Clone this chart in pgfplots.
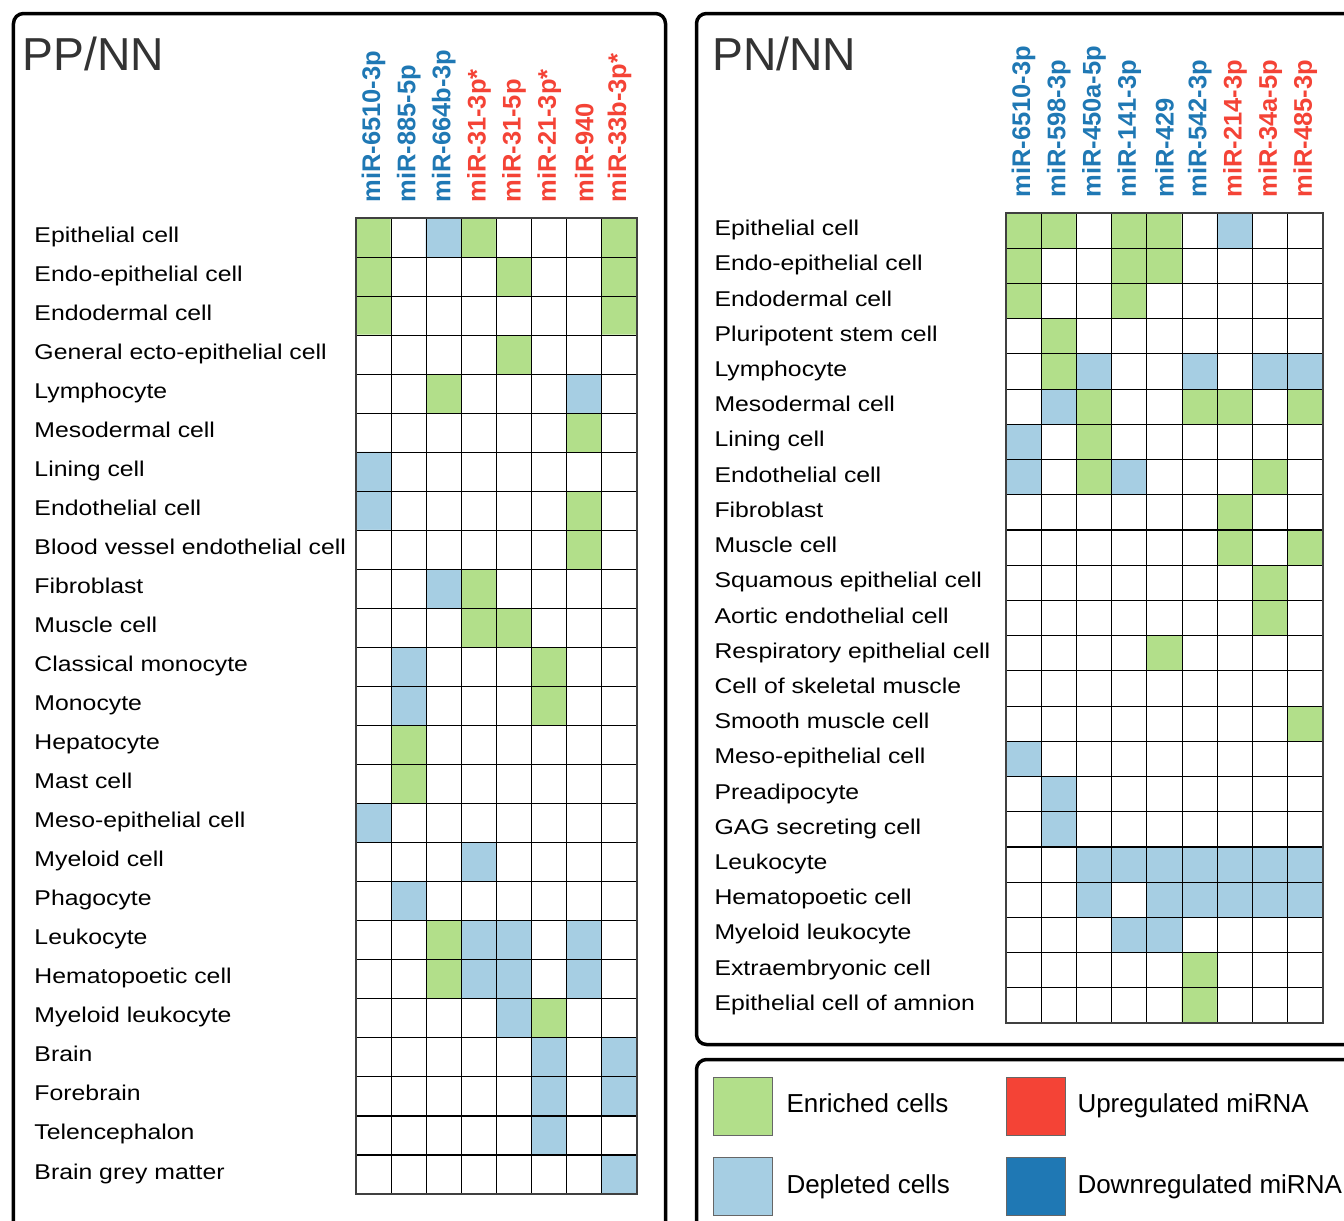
\documentclass[border=0pt]{standalone}
\usepackage{fontspec}
\setmainfont{Liberation Sans}
\newfontfamily\rowfont{Liberation Sans}[FakeStretch=1.16]
\usepackage{pgfplots}
\pgfplotsset{compat=1.18}
\definecolor{cgreen}{RGB}{178,223,138}
\definecolor{cblue}{RGB}{166,206,227}
\definecolor{lblue}{RGB}{31,120,180}
\definecolor{lred}{RGB}{244,67,54}
\definecolor{ttl}{RGB}{51,51,51}
\newcommand{\B}[1]{\textcolor{lblue}{\bfseries #1}}
\newcommand{\R}[1]{\textcolor{lred}{\bfseries #1}}
\pgfplotsset{
  cellgrid/.style={
    scale only axis,
    y dir=reverse,
    enlargelimits=false,
    colormap={cells}{rgb255(0)=(255,255,255) rgb255(1)=(178,223,138) rgb255(2)=(166,206,227)},
    point meta min=0, point meta max=2,
    axis on top,
    major tick length=0pt, minor tick length=0pt,
    xminorgrids=true, yminorgrids=true,
    minor grid style={black, line width=0.45pt},
    axis line style={black!75, line width=0.6pt},
    xticklabel pos=upper,
    xticklabel style={rotate=90, anchor=west, inner xsep=0pt, font=\fontsize{10.2pt}{12pt}\selectfont},
    yticklabel style={anchor=base west, inner xsep=0pt, inner ysep=0pt, font=\rowfont\fontsize{8.55pt}{10pt}\selectfont},
  }
}
\begin{document}
\begin{tikzpicture}
\useasboundingbox (0,0) rectangle (537.6pt,-488pt);
\clip (0,0) rectangle (537.6pt,-488pt);
\begin{scope}[x=0.4pt,y=-0.4pt]
  \draw[line width=1.4pt, rounded corners=4pt] (13.5,1300) -- (13.5,13.5) -- (665.5,13.5) -- (665.5,1300);
  \draw[line width=1.4pt, rounded corners=4pt] (1400,1044.5) -- (696.5,1044.5) -- (696.5,13.5) -- (1400,13.5);
  \draw[line width=1.4pt, rounded corners=4pt] (1400,1059.5) -- (696.5,1059.5) -- (696.5,1300);
  \node[anchor=base west, inner sep=0pt, text=ttl, font=\fontsize{18.5pt}{22pt}\selectfont] at (22,70) {PP/NN};
  \node[anchor=base west, inner sep=0pt, text=ttl, font=\fontsize{18.5pt}{22pt}\selectfont] at (712,70) {PN/NN};
  \filldraw[fill=cgreen, draw=black!60, line width=0.4pt] (713,1077) rectangle (772,1135);
  \filldraw[fill=cblue, draw=black!60, line width=0.4pt] (713,1157) rectangle (772,1215);
  \filldraw[fill=lred, draw=black!60, line width=0.4pt] (1006,1077) rectangle (1065,1135);
  \filldraw[fill=lblue, draw=black!60, line width=0.4pt] (1006,1157) rectangle (1065,1215);
  \node[anchor=base west, inner sep=0pt, font=\fontsize{10.4pt}{12pt}\selectfont] at (786,1112) {Enriched cells};
  \node[anchor=base west, inner sep=0pt, font=\fontsize{10.4pt}{12pt}\selectfont] at (786,1193) {Depleted cells};
  \node[anchor=base west, inner sep=0pt, font=\fontsize{10.4pt}{12pt}\selectfont] at (1077,1112) {Upregulated miRNA};
  \node[anchor=base west, inner sep=0pt, font=\fontsize{10.4pt}{12pt}\selectfont] at (1077,1193) {Downregulated miRNA};
\end{scope}
\begin{axis}[cellgrid,
  at={(142.4pt,-477.6pt)}, anchor=south west,
  width=112.4pt, height=390.4pt,
  xmin=-0.5, xmax=7.5, ymin=-0.5, ymax=24.5,
  xtick={0,...,7}, minor xtick={-0.5,0.5,...,7.5},
  ytick={0,...,24}, minor ytick={-0.5,0.5,...,24.5},
  xticklabel style={inner xsep=6pt},
  yticklabel style={xshift=-128.8pt, yshift=-1.8pt},
  xticklabels={\B{miR-6510-3p},\B{miR-885-5p},\B{miR-664b-3p},\R{miR-31-3p*},\R{miR-31-5p},\R{miR-21-3p*},\R{miR-940},\R{miR-33b-3p*}},
  yticklabels={Epithelial cell,Endo-epithelial cell,Endodermal cell,General ecto-epithelial cell,Lymphocyte,Mesodermal cell,Lining cell,Endothelial cell,Blood vessel endothelial cell,Fibroblast,Muscle cell,Classical monocyte,Monocyte,Hepatocyte,Mast cell,Meso-epithelial cell,Myeloid cell,Phagocyte,Leukocyte,Hematopoetic cell,Myeloid leukocyte,Brain,Forebrain,Telencephalon,Brain grey matter},
]
\addplot[matrix plot*, mesh/cols=8, mesh/rows=25, point meta=explicit] table[row sep=\\, meta=c] {
x y c\\
0 0 1\\1 0 0\\2 0 2\\3 0 1\\4 0 0\\5 0 0\\6 0 0\\7 0 1\\
0 1 1\\1 1 0\\2 1 0\\3 1 0\\4 1 1\\5 1 0\\6 1 0\\7 1 1\\
0 2 1\\1 2 0\\2 2 0\\3 2 0\\4 2 0\\5 2 0\\6 2 0\\7 2 1\\
0 3 0\\1 3 0\\2 3 0\\3 3 0\\4 3 1\\5 3 0\\6 3 0\\7 3 0\\
0 4 0\\1 4 0\\2 4 1\\3 4 0\\4 4 0\\5 4 0\\6 4 2\\7 4 0\\
0 5 0\\1 5 0\\2 5 0\\3 5 0\\4 5 0\\5 5 0\\6 5 1\\7 5 0\\
0 6 2\\1 6 0\\2 6 0\\3 6 0\\4 6 0\\5 6 0\\6 6 0\\7 6 0\\
0 7 2\\1 7 0\\2 7 0\\3 7 0\\4 7 0\\5 7 0\\6 7 1\\7 7 0\\
0 8 0\\1 8 0\\2 8 0\\3 8 0\\4 8 0\\5 8 0\\6 8 1\\7 8 0\\
0 9 0\\1 9 0\\2 9 2\\3 9 1\\4 9 0\\5 9 0\\6 9 0\\7 9 0\\
0 10 0\\1 10 0\\2 10 0\\3 10 1\\4 10 1\\5 10 0\\6 10 0\\7 10 0\\
0 11 0\\1 11 2\\2 11 0\\3 11 0\\4 11 0\\5 11 1\\6 11 0\\7 11 0\\
0 12 0\\1 12 2\\2 12 0\\3 12 0\\4 12 0\\5 12 1\\6 12 0\\7 12 0\\
0 13 0\\1 13 1\\2 13 0\\3 13 0\\4 13 0\\5 13 0\\6 13 0\\7 13 0\\
0 14 0\\1 14 1\\2 14 0\\3 14 0\\4 14 0\\5 14 0\\6 14 0\\7 14 0\\
0 15 2\\1 15 0\\2 15 0\\3 15 0\\4 15 0\\5 15 0\\6 15 0\\7 15 0\\
0 16 0\\1 16 0\\2 16 0\\3 16 2\\4 16 0\\5 16 0\\6 16 0\\7 16 0\\
0 17 0\\1 17 2\\2 17 0\\3 17 0\\4 17 0\\5 17 0\\6 17 0\\7 17 0\\
0 18 0\\1 18 0\\2 18 1\\3 18 2\\4 18 2\\5 18 0\\6 18 2\\7 18 0\\
0 19 0\\1 19 0\\2 19 1\\3 19 2\\4 19 2\\5 19 0\\6 19 2\\7 19 0\\
0 20 0\\1 20 0\\2 20 0\\3 20 0\\4 20 2\\5 20 1\\6 20 0\\7 20 0\\
0 21 0\\1 21 0\\2 21 0\\3 21 0\\4 21 0\\5 21 2\\6 21 0\\7 21 2\\
0 22 0\\1 22 0\\2 22 0\\3 22 0\\4 22 0\\5 22 2\\6 22 0\\7 22 2\\
0 23 0\\1 23 0\\2 23 0\\3 23 0\\4 23 0\\5 23 2\\6 23 0\\7 23 0\\
0 24 0\\1 24 0\\2 24 0\\3 24 0\\4 24 0\\5 24 0\\6 24 0\\7 24 2\\
};
\end{axis}
\begin{axis}[cellgrid,
  at={(402.4pt,-409.2pt)}, anchor=south west,
  width=126.8pt, height=324pt,
  xmin=-0.5, xmax=8.5, ymin=-0.5, ymax=22.5,
  xtick={0,...,8}, minor xtick={-0.5,0.5,...,8.5},
  ytick={0,...,22}, minor ytick={-0.5,0.5,...,22.5},
  xticklabel style={inner xsep=6pt},
  yticklabel style={xshift=-116.8pt, yshift=-2pt},
  xticklabels={\B{miR-6510-3p},\B{miR-598-3p},\B{miR-450a-5p},\B{miR-141-3p},\B{miR-429},\B{miR-542-3p},\R{miR-214-3p},\R{miR-34a-5p},\R{miR-485-3p}},
  yticklabels={Epithelial cell,Endo-epithelial cell,Endodermal cell,Pluripotent stem cell,Lymphocyte,Mesodermal cell,Lining cell,Endothelial cell,Fibroblast,Muscle cell,Squamous epithelial cell,Aortic endothelial cell,Respiratory epithelial cell,Cell of skeletal muscle,Smooth muscle cell,Meso-epithelial cell,Preadipocyte,GAG secreting cell,Leukocyte,Hematopoetic cell,Myeloid leukocyte,Extraembryonic cell,Epithelial cell of amnion},
]
\addplot[matrix plot*, mesh/cols=9, mesh/rows=23, point meta=explicit] table[row sep=\\, meta=c] {
x y c\\
0 0 1\\1 0 1\\2 0 0\\3 0 1\\4 0 1\\5 0 0\\6 0 2\\7 0 0\\8 0 0\\
0 1 1\\1 1 0\\2 1 0\\3 1 1\\4 1 1\\5 1 0\\6 1 0\\7 1 0\\8 1 0\\
0 2 1\\1 2 0\\2 2 0\\3 2 1\\4 2 0\\5 2 0\\6 2 0\\7 2 0\\8 2 0\\
0 3 0\\1 3 1\\2 3 0\\3 3 0\\4 3 0\\5 3 0\\6 3 0\\7 3 0\\8 3 0\\
0 4 0\\1 4 1\\2 4 2\\3 4 0\\4 4 0\\5 4 2\\6 4 0\\7 4 2\\8 4 2\\
0 5 0\\1 5 2\\2 5 1\\3 5 0\\4 5 0\\5 5 1\\6 5 1\\7 5 0\\8 5 1\\
0 6 2\\1 6 0\\2 6 1\\3 6 0\\4 6 0\\5 6 0\\6 6 0\\7 6 0\\8 6 0\\
0 7 2\\1 7 0\\2 7 1\\3 7 2\\4 7 0\\5 7 0\\6 7 0\\7 7 1\\8 7 0\\
0 8 0\\1 8 0\\2 8 0\\3 8 0\\4 8 0\\5 8 0\\6 8 1\\7 8 0\\8 8 0\\
0 9 0\\1 9 0\\2 9 0\\3 9 0\\4 9 0\\5 9 0\\6 9 1\\7 9 0\\8 9 1\\
0 10 0\\1 10 0\\2 10 0\\3 10 0\\4 10 0\\5 10 0\\6 10 0\\7 10 1\\8 10 0\\
0 11 0\\1 11 0\\2 11 0\\3 11 0\\4 11 0\\5 11 0\\6 11 0\\7 11 1\\8 11 0\\
0 12 0\\1 12 0\\2 12 0\\3 12 0\\4 12 1\\5 12 0\\6 12 0\\7 12 0\\8 12 0\\
0 13 0\\1 13 0\\2 13 0\\3 13 0\\4 13 0\\5 13 0\\6 13 0\\7 13 0\\8 13 0\\
0 14 0\\1 14 0\\2 14 0\\3 14 0\\4 14 0\\5 14 0\\6 14 0\\7 14 0\\8 14 1\\
0 15 2\\1 15 0\\2 15 0\\3 15 0\\4 15 0\\5 15 0\\6 15 0\\7 15 0\\8 15 0\\
0 16 0\\1 16 2\\2 16 0\\3 16 0\\4 16 0\\5 16 0\\6 16 0\\7 16 0\\8 16 0\\
0 17 0\\1 17 2\\2 17 0\\3 17 0\\4 17 0\\5 17 0\\6 17 0\\7 17 0\\8 17 0\\
0 18 0\\1 18 0\\2 18 2\\3 18 2\\4 18 2\\5 18 2\\6 18 2\\7 18 2\\8 18 2\\
0 19 0\\1 19 0\\2 19 2\\3 19 0\\4 19 2\\5 19 2\\6 19 2\\7 19 2\\8 19 2\\
0 20 0\\1 20 0\\2 20 0\\3 20 2\\4 20 2\\5 20 0\\6 20 0\\7 20 0\\8 20 0\\
0 21 0\\1 21 0\\2 21 0\\3 21 0\\4 21 0\\5 21 1\\6 21 0\\7 21 0\\8 21 0\\
0 22 0\\1 22 0\\2 22 0\\3 22 0\\4 22 0\\5 22 1\\6 22 0\\7 22 0\\8 22 0\\
};
\end{axis}
\end{tikzpicture}
\end{document}
